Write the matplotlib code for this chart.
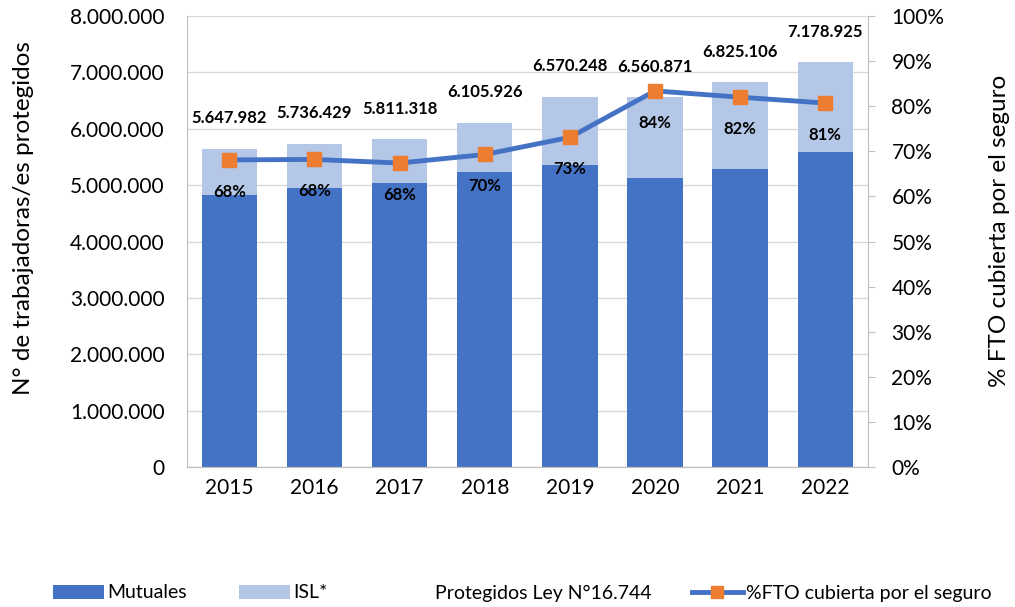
import matplotlib
matplotlib.use("Agg")
import matplotlib.pyplot as plt
from matplotlib.patches import Patch
from matplotlib.lines import Line2D
from matplotlib.ticker import FuncFormatter, MultipleLocator

years = ["2015", "2016", "2017", "2018", "2019", "2020", "2021", "2022"]
mutuales = [4820000, 4950000, 5040000, 5230000, 5350000, 5120000, 5290000, 5590000]
totales = [5647982, 5736429, 5811318, 6105926, 6570248, 6560871, 6825106, 7178925]
isl = [t - m for t, m in zip(totales, mutuales)]
pct_fto = [68.1, 68.2, 67.4, 69.3, 73.1, 83.4, 82.0, 80.7]
pct_labels = ["68%", "68%", "68%", "70%", "73%", "84%", "82%", "81%"]

plt.rcParams['font.family'] = ['Lato', 'DejaVu Sans']

fig = plt.figure(figsize=(10.15, 6.07), dpi=100)
ax = fig.add_axes([0.184, 0.2306, 0.671, 0.743])
ax2 = ax.twinx()

x = list(range(len(years)))
c_mut = "#4472C4"
c_isl = "#B4C7E7"
ax.bar(x, mutuales, width=0.65, color=c_mut, zorder=2)
ax.bar(x, isl, bottom=mutuales, width=0.65, color=c_isl, zorder=2)

ax.set_xlim(-0.5, 7.5)
ax.set_ylim(0, 8000000)
ax.yaxis.set_major_locator(MultipleLocator(1000000))
ax.yaxis.set_major_formatter(FuncFormatter(lambda v, p: f"{int(v):,}".replace(",", ".")))
ax.grid(axis='y', color='#D9D9D9', linewidth=1, zorder=0)
ax.set_axisbelow(True)
ax.set_xticks(x)
ax.set_xticklabels(years)
ax.tick_params(axis='both', labelsize=15, length=0)
ax.tick_params(axis='x', pad=8)
ax.tick_params(axis='y', pad=16)
ax.set_ylabel("N° de trabajadoras/es protegidos", fontsize=17.5)
ax.yaxis.set_label_coords(-0.224, 0.553)

ax.spines['top'].set_visible(False)
ax2.spines['top'].set_visible(False)
for s in ['left', 'bottom', 'right']:
    ax.spines[s].set_color('#BFBFBF')
    ax2.spines[s].set_color('#BFBFBF')
ax2.spines['left'].set_visible(False)
ax.spines['right'].set_visible(False)

for xi, t in zip(x, totales):
    ax.annotate(f"{t:,}".replace(",", "."), (xi, t), xytext=(0, 22), textcoords='offset points',
                ha='center', va='center', fontsize=12, fontweight='bold', color='#000000')

ax2.plot(x, pct_fto, color=c_mut, linewidth=3.5, marker='s', markersize=10,
         markerfacecolor='#ED7D31', markeredgecolor='#ED7D31', zorder=5)
ax2.set_ylim(0, 100)
ax2.yaxis.set_major_locator(MultipleLocator(10))
ax2.yaxis.set_major_formatter(FuncFormatter(lambda v, p: f"{int(v)}%"))
ax2.tick_params(axis='y', labelsize=15, length=5, color='#BFBFBF', direction='out', pad=12)
ax2.set_ylabel("% FTO cubierta por el seguro", fontsize=17.5)
ax2.yaxis.set_label_coords(1.178, 0.523)

for xi, p, lab in zip(x, pct_fto, pct_labels):
    ax2.annotate(lab, (xi, p), xytext=(0, -23), textcoords='offset points',
                 ha='center', va='center', fontsize=12, fontweight='bold', color='#000000')

handles = [
    Patch(facecolor=c_mut, edgecolor='none'),
    Patch(facecolor=c_isl, edgecolor='none'),
    Patch(facecolor='none', edgecolor='none'),
    Line2D([0], [0], color=c_mut, linewidth=3.5, marker='s', markersize=9,
           markerfacecolor='#ED7D31', markeredgecolor='#ED7D31'),
]
labels = ["Mutuales", "ISL*", "Protegidos Ley N°16.744", "%FTO cubierta por el seguro"]
xpos = [53, 239, 381, 692]
for h, l, xp in zip(handles, labels, xpos):
    fig.legend([h], [l], loc='center left', bbox_to_anchor=(xp / 1015, 1 - 593 / 607),
               frameon=False, fontsize=14, handlelength=2.6, handleheight=0.75,
               handletextpad=0.2, borderpad=0, borderaxespad=0)

fig.savefig("out.png", dpi=100)
